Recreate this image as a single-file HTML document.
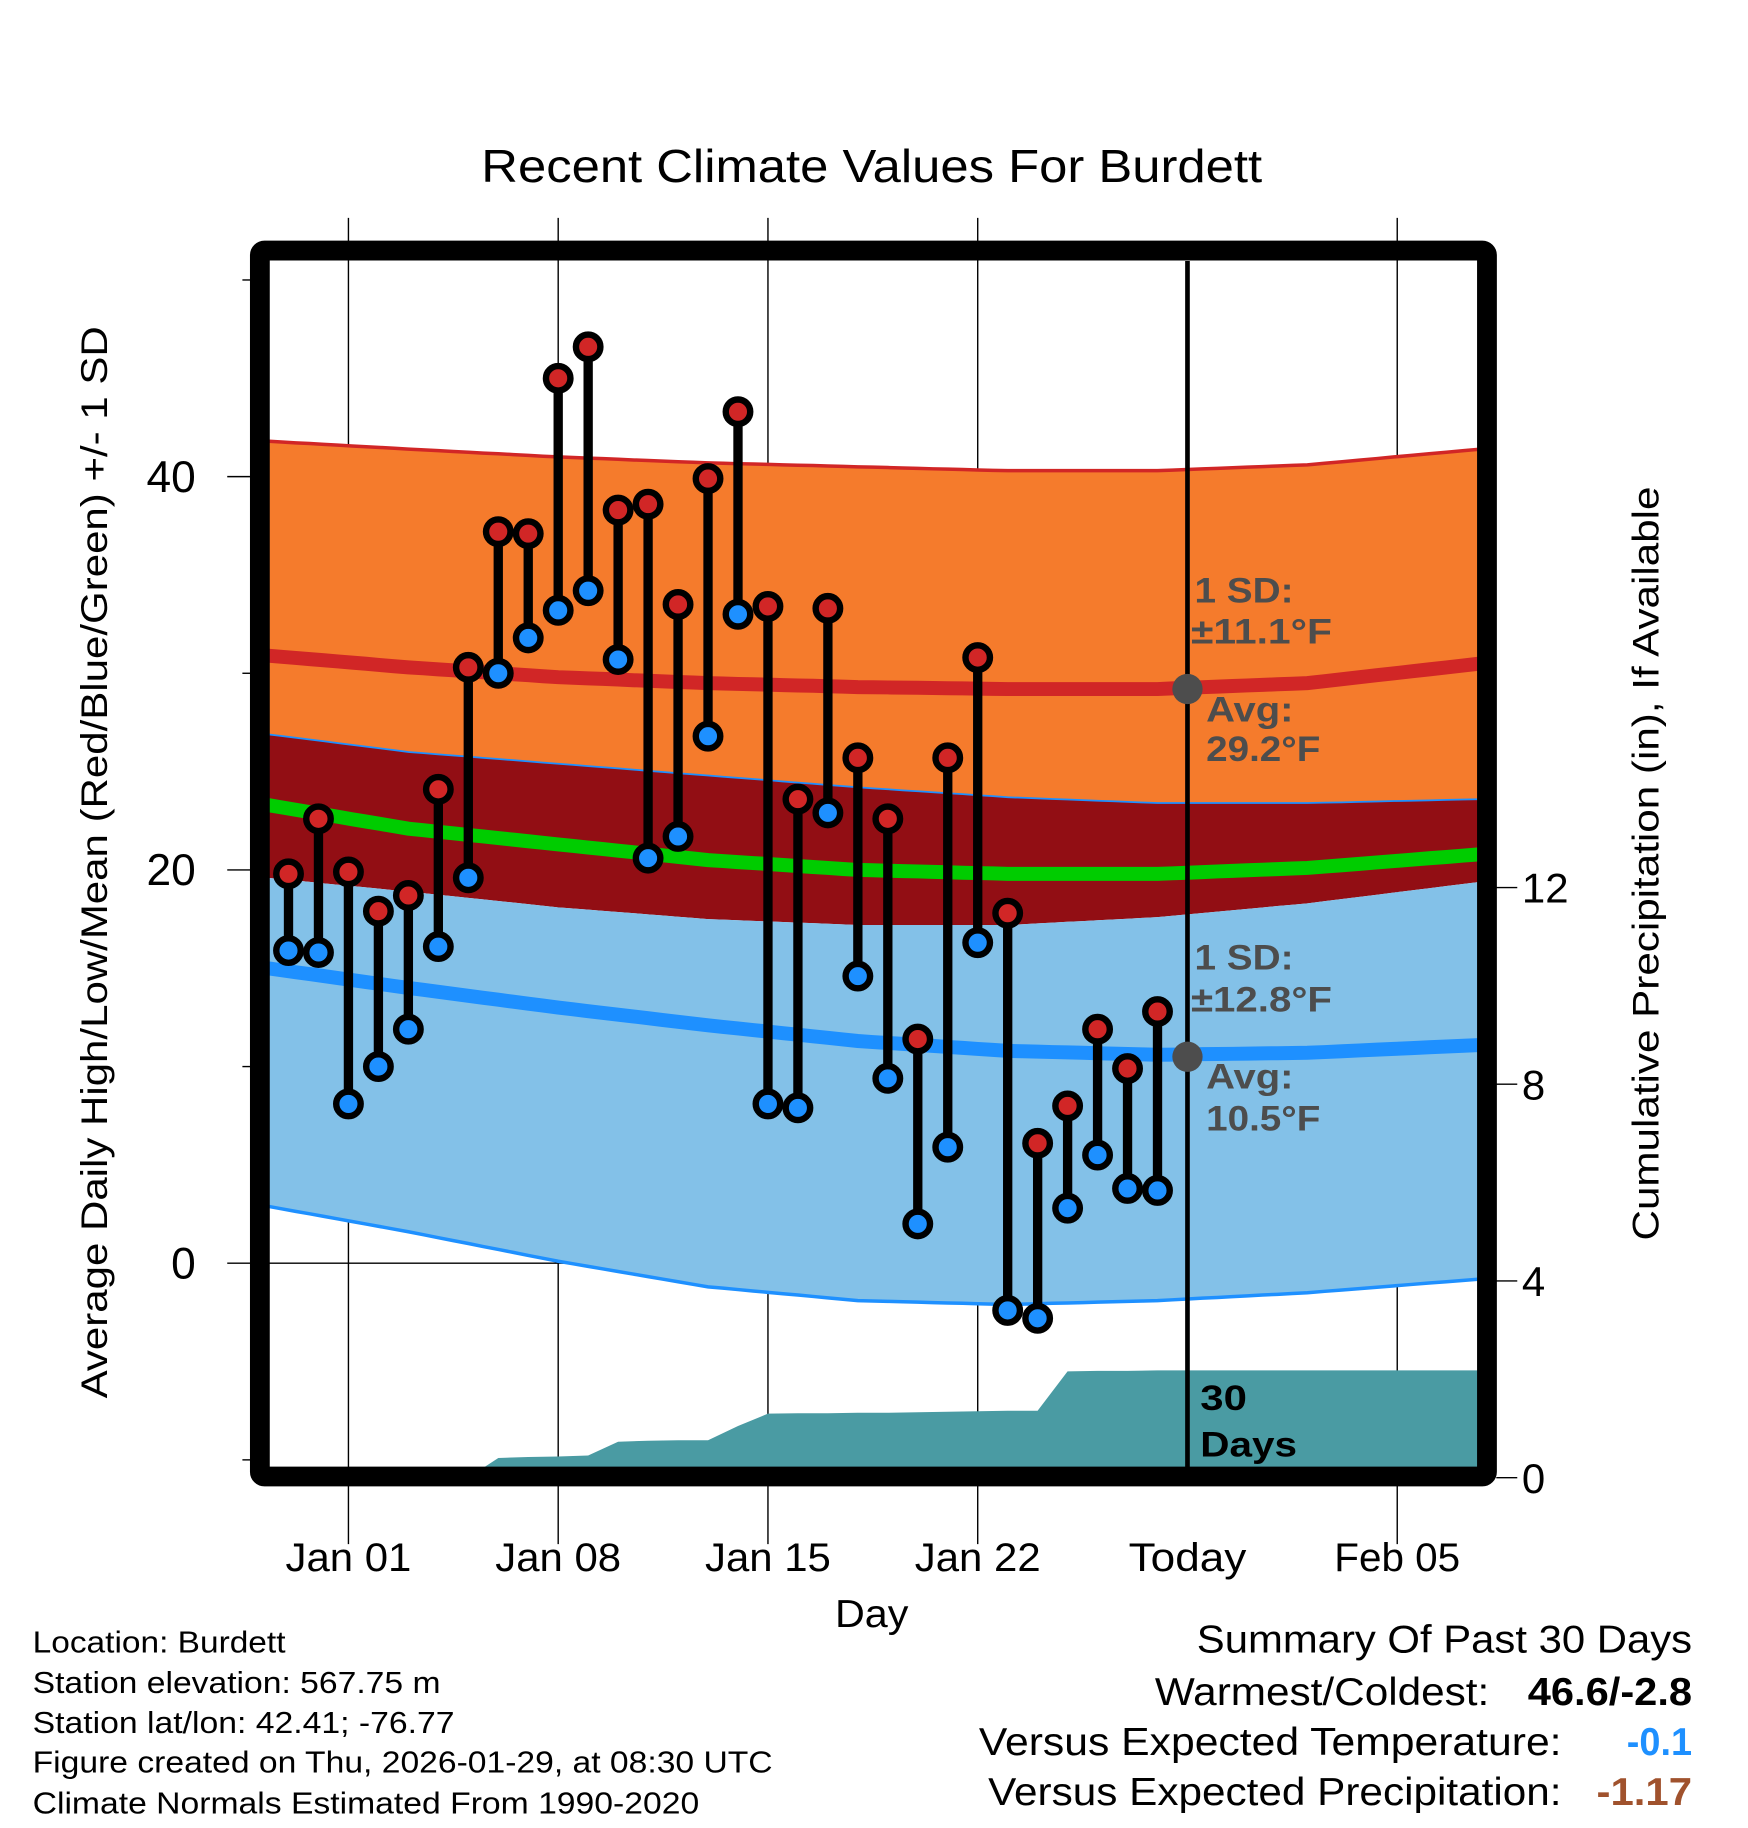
<!DOCTYPE html>
<html><head><meta charset="utf-8"><style>
html,body{margin:0;padding:0;background:#fff;}
svg{display:block;font-family:"Liberation Sans",Arial,sans-serif;}
</style></head><body>
<svg id="chart" width="1748" height="1828" viewBox="0 0 1500 1568.65" preserveAspectRatio="none" xmlns="http://www.w3.org/2000/svg">
<defs><clipPath id="plotclip"><rect x="231" y="224" width="1037" height="1035"/></clipPath></defs>
<text x="748" y="156" font-size="40" text-anchor="middle" textLength="670" lengthAdjust="spacingAndGlyphs">Recent Climate Values For Burdett</text>
<g id="grid"></g>
<g id="plot" clip-path="url(#plotclip)"></g>
<g id="marks"></g>
<rect x="223" y="215" width="1053" height="1052" fill="none" stroke="#000" stroke-width="17" rx="4"/>
<g id="axes"></g>
<text x="748" y="1396" font-size="33" text-anchor="middle" textLength="63" lengthAdjust="spacingAndGlyphs">Day</text>
<text transform="translate(92,740) rotate(-90)" font-size="32" text-anchor="middle" textLength="920" lengthAdjust="spacingAndGlyphs">Average Daily High/Low/Mean (Red/Blue/Green) +/- 1 SD</text>
<text transform="translate(1423,741) rotate(-90)" font-size="32" text-anchor="middle" textLength="647" lengthAdjust="spacingAndGlyphs">Cumulative Precipitation (in), If Available</text>
<g font-size="26">
<text x="28" y="1418" textLength="217" lengthAdjust="spacingAndGlyphs">Location: Burdett</text>
<text x="28" y="1453" textLength="350" lengthAdjust="spacingAndGlyphs">Station elevation: 567.75 m</text>
<text x="28" y="1487" textLength="362" lengthAdjust="spacingAndGlyphs">Station lat/lon: 42.41; -76.77</text>
<text x="28" y="1521" textLength="635" lengthAdjust="spacingAndGlyphs">Figure created on Thu, 2026-01-29, at 08:30 UTC</text>
<text x="28" y="1556" textLength="572" lengthAdjust="spacingAndGlyphs">Climate Normals Estimated From 1990-2020</text>
</g>
<g font-size="33">
<text x="1452" y="1418" text-anchor="end" textLength="425" lengthAdjust="spacingAndGlyphs">Summary Of Past 30 Days</text>
<text x="1278" y="1463" text-anchor="end" textLength="287" lengthAdjust="spacingAndGlyphs">Warmest/Coldest:</text>
<text x="1452" y="1463" text-anchor="end" font-weight="bold" textLength="141" lengthAdjust="spacingAndGlyphs">46.6/-2.8</text>
<text x="1340" y="1506" text-anchor="end" textLength="500" lengthAdjust="spacingAndGlyphs">Versus Expected Temperature:</text>
<text x="1452" y="1506" text-anchor="end" font-weight="bold" fill="#1e90ff" textLength="56" lengthAdjust="spacingAndGlyphs">-0.1</text>
<text x="1340" y="1549" text-anchor="end" textLength="492" lengthAdjust="spacingAndGlyphs">Versus Expected Precipitation:</text>
<text x="1452" y="1549" text-anchor="end" font-weight="bold" fill="#a0522d" textLength="82" lengthAdjust="spacingAndGlyphs">-1.17</text>
</g>
</svg>
<script>
// Data (day index: Jan 01 = 0)
const obsDays = [-2,-1,0,1,2,3,4,5,6,7,8,9,10,11,12,13,14,15,16,17,18,19,20,21,22,23,24,25,26,27];
const highs = [19.8,22.6,19.9,17.9,18.7,24.1,30.3,37.2,37.1,45.0,46.6,38.3,38.6,33.5,39.9,43.3,33.4,23.6,33.3,25.7,22.6,11.4,25.7,30.8,17.8,6.1,8.0,11.9,9.9,12.8];
const lows = [15.9,15.8,8.1,10.0,11.9,16.1,19.6,30.0,31.8,33.2,34.2,30.7,20.6,21.7,26.8,33.0,8.1,7.9,22.9,14.6,9.4,2.0,5.9,16.3,-2.4,-2.8,2.8,5.5,3.8,3.7];
const precip = [0,0,0,0,0,0,0,0.40,0.42,0.43,0.45,0.73,0.75,0.76,0.76,1.05,1.30,1.31,1.31,1.32,1.32,1.33,1.34,1.35,1.36,1.36,2.16,2.17,2.17,2.18];
const normDays = [-2.7,2,7,12,17,22,27,32,37.8];
const highUpper = [41.8,41.4,41.0,40.7,40.5,40.3,40.3,40.6,41.4];
const highMean = [30.9,30.3,29.8,29.5,29.3,29.2,29.2,29.5,30.5];
const highLower = [26.9,26.0,25.4,24.8,24.2,23.7,23.4,23.4,23.6];
const meanTemp = [23.3,22.1,21.3,20.5,20.0,19.8,19.8,20.1,20.8];
const lowUpper = [19.6,18.9,18.1,17.5,17.2,17.2,17.6,18.3,19.4];
const lowMean = [15.0,14.0,13.0,12.1,11.3,10.8,10.6,10.7,11.1];
const lowLower = [2.9,1.6,0.1,-1.2,-1.9,-2.1,-1.9,-1.5,-0.8];
const xTickDays = [0,7,14,21,28,35];
const xTickLabels = ["Jan 01","Jan 08","Jan 15","Jan 22","Today","Feb 05"];
const yTicks = [0,20,40];
const yMinor = [-10,10,30,50];
const rTicks = [0,4,8,12];
const todayDay = 28;
const todayHighAvg = 29.2;
const todayLowAvg = 10.5;

const NS = "http://www.w3.org/2000/svg";
const X = d => 299 + d * (180/7);
const Y = v => 1084 - v * 16.875;
const R = p => 1268 - p * 42.2;
function el(tag, attrs, parent){ const e=document.createElementNS(NS,tag); for(const k in attrs) e.setAttribute(k,attrs[k]); parent.appendChild(e); return e; }
const grid=document.getElementById('grid'), plot=document.getElementById('plot'), marks=document.getElementById('marks'), axes=document.getElementById('axes');

function smooth(days, vals){
  const out=[]; for(let i=0;i<days.length-1;i++){ for(let s=0;s<10;s++){ const t=s/10; out.push([days[i]+(days[i+1]-days[i])*t, vals[i]+(vals[i+1]-vals[i])*t]); } }
  out.push([days[days.length-1], vals[vals.length-1]]); return out; }
function band(upper, lower, fill, name){
  const u=smooth(normDays,upper), l=smooth(normDays,lower).reverse();
  const p=el('polygon',{points:u.concat(l).map(a=>X(a[0]).toFixed(1)+","+Y(a[1]).toFixed(1)).join(" "),fill:fill},plot);
  
  
}
function line(vals, color, w, name){
  const p=el('polyline',{points:smooth(normDays,vals).map(a=>X(a[0]).toFixed(1)+","+Y(a[1]).toFixed(1)).join(" "),fill:'none',stroke:color,'stroke-width':w},plot);
  
  
}
band(highUpper, highLower, '#f57b2c', 'high-sd-band');
band(highLower, lowUpper, '#920e14', 'overlap-band');
band(lowUpper, lowLower, '#83c1e8', 'low-sd-band');
line(highUpper, '#d12626', 3, 'high-upper-line');
line(lowLower, '#1e90ff', 3, 'low-lower-line');
line(highLower, '#1e90ff', 1.5, 'high-lower-line');
line(highMean, '#d12626', 12, 'high-mean-line');
line(meanTemp, '#00cc00', 12, 'mean-line');
line(lowMean, '#1e90ff', 12, 'low-mean-line');

{
  let s=X(obsDays[0]-1)+","+R(0)+" ";
  obsDays.forEach((d,i)=>{ s+=X(d).toFixed(1)+","+R(precip[i]).toFixed(1)+" "; });
  s+=X(40)+","+R(precip[precip.length-1]).toFixed(1)+" "+X(40)+","+R(-1)+" "+X(obsDays[0]-1)+","+R(-1);
  const p=el('polygon',{points:s,fill:'#4a9ba3'},plot);
  
  
}

xTickDays.forEach((d,i)=>{
  const l=el('line',{x1:X(d),x2:X(d),y1:187,y2:1325,stroke:'#000','stroke-width':(d===todayDay?0:1.2)},grid);
  
  
  const t=el('text',{x:X(d),y:1348,'font-size':34,'text-anchor':'middle',textLength:(xTickLabels[i]==="Today"?101:108),lengthAdjust:'spacingAndGlyphs'},axes);
  t.textContent=xTickLabels[i];
  
  
});
yTicks.forEach(v=>{
  const l=el('line',{x1:195,x2:1268,y1:Y(v),y2:Y(v),stroke:'#000','stroke-width':1.2},grid);
  
  
  const t=el('text',{x:168,y:Y(v)+13,'font-size':38,'text-anchor':'end'},axes);
  t.textContent=v;
  
  
});
yMinor.forEach(v=>{
  const l=el('line',{x1:208,x2:215,y1:Y(v),y2:Y(v),stroke:'#000','stroke-width':1.2},axes);
  
  
});
rTicks.forEach(p=>{
  const l=el('line',{x1:1284,x2:1302,y1:R(p),y2:R(p),stroke:'#000','stroke-width':1.2},axes);
  
  
  const t=el('text',{x:1306,y:R(p)+13,'font-size':36},axes);
  t.textContent=p;
  
  
});

{
  const l=el('line',{x1:X(todayDay),x2:X(todayDay),y1:224,y2:1259,stroke:'#000','stroke-width':4},marks);
  
  
}
obsDays.forEach((d,i)=>{
  const s=el('line',{x1:X(d),x2:X(d),y1:Y(highs[i]),y2:Y(lows[i]),stroke:'#000','stroke-width':8},marks);
  
  
});
obsDays.forEach((d,i)=>{
  const h=el('circle',{cx:X(d),cy:Y(highs[i]),r:10.5,fill:'#d12626',stroke:'#000','stroke-width':5.5},marks);
  
  
  const lo=el('circle',{cx:X(d),cy:Y(lows[i]),r:10.5,fill:'#1e90ff',stroke:'#000','stroke-width':5.5},marks);
  
  
});
[todayHighAvg,todayLowAvg].forEach(v=>{
  const c=el('circle',{cx:X(todayDay),cy:Y(v),r:13,fill:'#4d4d4d'},marks);
  
  
});
const ann=[["1 SD:",1025,517,'#4d4d4d',85],["±11.1°F",1022,552,'#4d4d4d',121],["Avg:",1035,619,'#4d4d4d',75],["29.2°F",1035,653,'#4d4d4d',98],
["1 SD:",1025,832,'#4d4d4d',85],["±12.8°F",1022,868,'#4d4d4d',121],["Avg:",1035,934,'#4d4d4d',75],["10.5°F",1035,970,'#4d4d4d',98],
["30",1030,1210,'#000',40],["Days",1030,1250,'#000',83]];
ann.forEach(a=>{
  const t=el('text',{x:a[1],y:a[2],'font-size':30,'font-weight':'bold',fill:a[3],textLength:a[4],lengthAdjust:'spacingAndGlyphs'},marks);
  t.textContent=a[0];
  
  
});
</script>
</body></html>
